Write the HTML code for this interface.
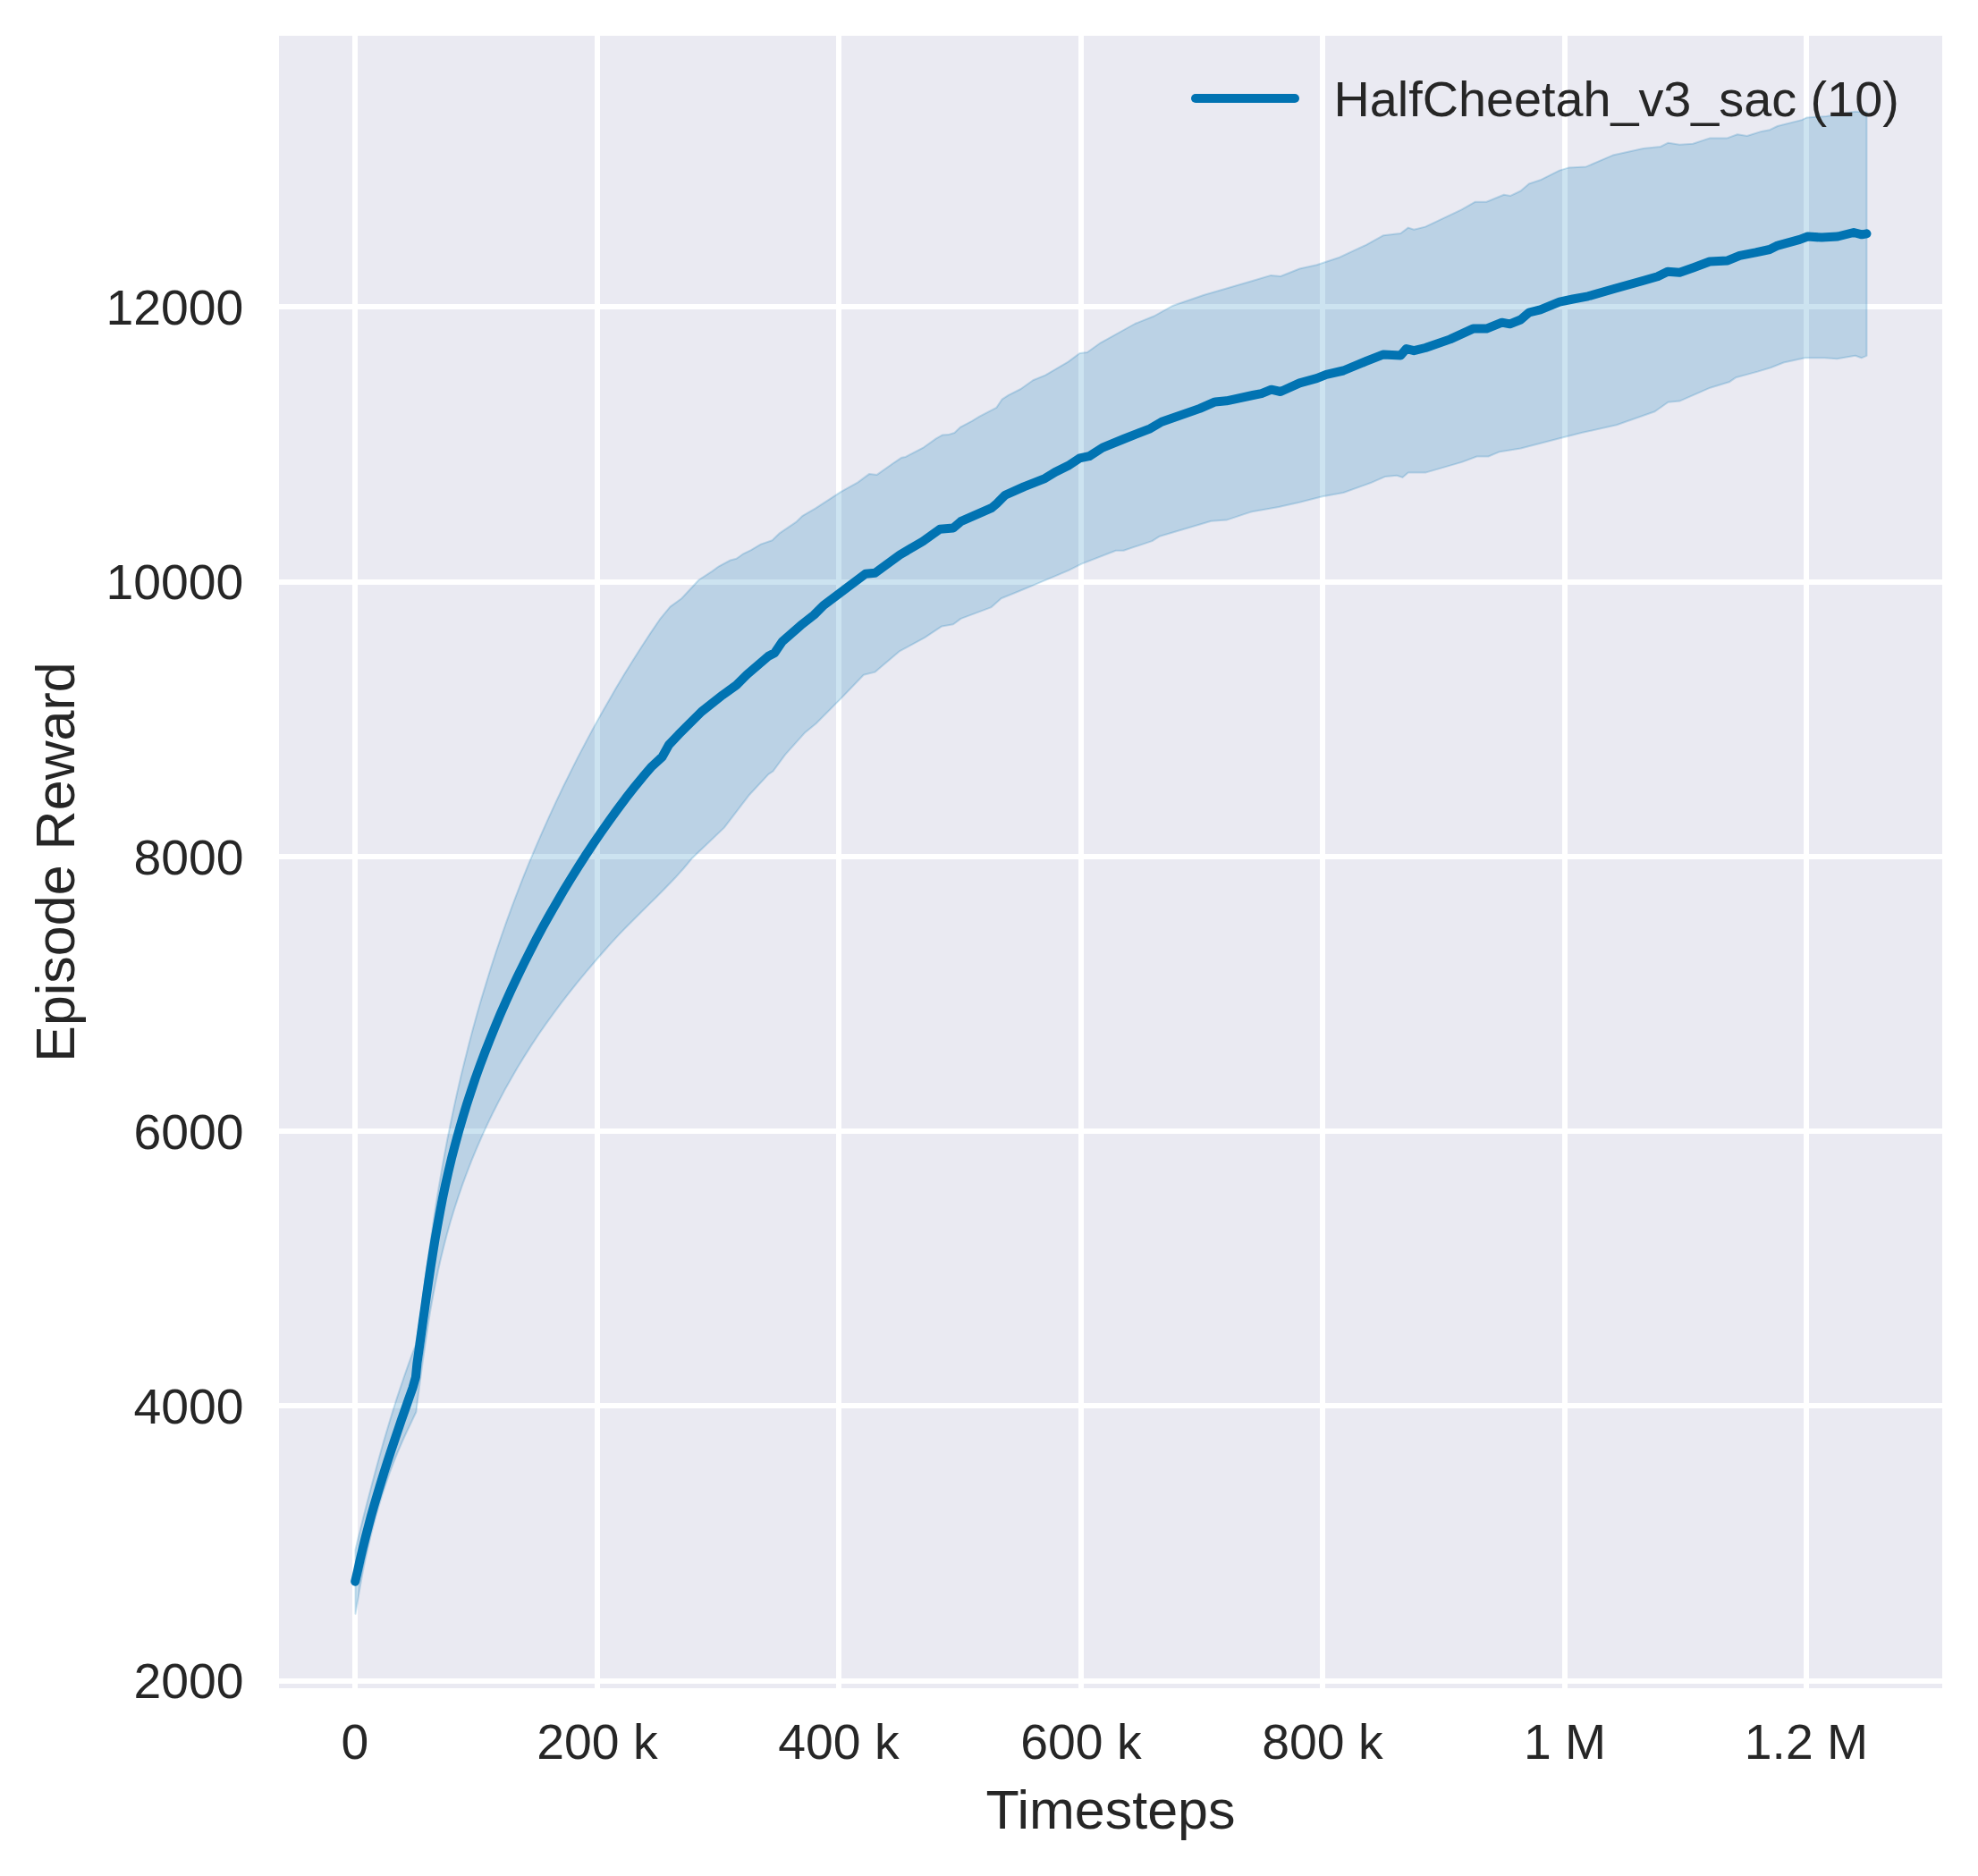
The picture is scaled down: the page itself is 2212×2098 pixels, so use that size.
<!DOCTYPE html>
<html><head><meta charset="utf-8"><style>
html,body{margin:0;padding:0;background:#fff;}
svg{display:block;}
.t{font-family:"Liberation Sans",sans-serif;font-size:55.3px;fill:#262626;}
.l{font-family:"Liberation Sans",sans-serif;font-size:61px;fill:#262626;}
</style></head><body>
<svg width="2212" height="2098" viewBox="0 0 2212 2098">
<rect width="2212" height="2098" fill="#fff"/>
<rect x="312" y="40" width="1860" height="1848" fill="#EAEAF2"/>
<rect x="394" y="40" width="6" height="1848" fill="#fff"/>
<rect x="665" y="40" width="6" height="1848" fill="#fff"/>
<rect x="935" y="40" width="6" height="1848" fill="#fff"/>
<rect x="1206" y="40" width="6" height="1848" fill="#fff"/>
<rect x="1476" y="40" width="6" height="1848" fill="#fff"/>
<rect x="1747" y="40" width="6" height="1848" fill="#fff"/>
<rect x="2017" y="40" width="6" height="1848" fill="#fff"/>
<rect x="312" y="1877" width="1860" height="6" fill="#fff"/>
<rect x="312" y="1569" width="1860" height="6" fill="#fff"/>
<rect x="312" y="1262" width="1860" height="6" fill="#fff"/>
<rect x="312" y="955" width="1860" height="6" fill="#fff"/>
<rect x="312" y="648" width="1860" height="6" fill="#fff"/>
<rect x="312" y="340" width="1860" height="6" fill="#fff"/>
<polygon points="397.5,1733.3 400.3,1721 403.4,1708.8 406.4,1696.6 409.5,1684.4 412.7,1672.2 415.9,1660 419.1,1647.9 422.4,1635.7 425.8,1623.6 429.2,1611.5 432.8,1599.4 436.4,1587.3 440.1,1575.3 443.9,1563.3 447.9,1551.4 451.9,1539.5 456.1,1527.6 460.4,1515.7 464.9,1504 468.1,1486.8 470.5,1469.4 472.8,1451.8 475.2,1434.2 477.5,1416.5 480,1398.8 482.5,1381.1 485.1,1363.3 487.8,1345.5 490.7,1327.7 493.7,1309.9 496.9,1292.2 500.2,1274.4 503.8,1256.7 507.5,1239 511.3,1221.4 515.4,1203.8 519.7,1186.2 524.1,1168.7 528.7,1151.2 533.5,1133.8 538.5,1116.4 543.8,1099.1 549.1,1081.8 554.7,1064.6 560.5,1047.5 566.5,1030.4 572.7,1013.4 579.1,996.5 585.7,979.6 592.5,962.9 599.6,946.2 606.8,929.6 614.2,913.1 621.8,896.7 629.6,880.3 637.6,864.1 645.7,847.9 654.1,831.9 662.6,815.9 671.4,800.1 680.3,784.4 689.3,768.8 698.6,753.3 708.1,737.9 717.8,722.7 727.7,707.6 737.8,692.7 749.4,678.6 762.2,669.2 781.5,648.5 796.3,638.9 804,633.3 816.8,626.5 823.6,624.8 831.3,619.3 840,615.1 850.9,608.6 863.6,604.2 871.3,596.7 890.1,583.9 897.6,576.8 912.5,568.2 940.2,550.1 959.4,539.4 972.2,529.9 980.7,530.9 1000,517.3 1008.4,511.7 1012.8,510.9 1033,500.3 1046.9,490.4 1053.7,486.6 1060.6,486.1 1067.4,484 1074.2,477.6 1087,470.8 1095.5,465.7 1114.3,455.9 1120.5,446.7 1127.9,441.8 1141.5,435 1155.2,425.2 1169,419.6 1194.6,404.6 1207.4,395 1215.9,394 1230.9,383.3 1269.3,362 1290.6,353.5 1311.9,341.7 1346,330 1400,314.3 1421.3,307.9 1432,309 1453.3,300.5 1472.5,296.2 1498.1,287.7 1527.9,273.8 1547.1,263.2 1566.3,261 1574.8,254.6 1581.2,256.8 1594,253.6 1634.5,234.4 1649.5,225.8 1662.3,225.8 1681.8,217.8 1689.2,218.9 1700.6,213.5 1709.9,205.5 1722.6,201.3 1744,190.6 1754.6,187.4 1773.8,186.4 1803.7,173.6 1837.8,166.1 1857,164 1865.5,159.7 1878.3,161.8 1893.2,160.8 1912.4,154.4 1931.6,154.4 1943,150.2 1953.7,152 1970,146.9 1979.2,145.2 1987.8,141 2015.1,134.1 2020.2,131.6 2042.4,129.9 2074.8,124.7 2087.5,125.6 2087.5,397.8 2081.6,400.3 2074.8,397.8 2054.3,401.2 2040.7,400.3 2018.5,400.3 1994.6,405.5 1980,411.3 1965.6,415.6 1941,422.3 1933.7,427.3 1912.4,433.7 1878.3,448.6 1865.5,449.7 1850.6,460.3 1807.9,475.3 1769.6,483.8 1744,490.2 1700.6,501.5 1677.2,505.2 1664.4,510.5 1651.6,510.5 1634.5,516.9 1594,528.6 1574.8,528.6 1568.4,533.9 1562,531.8 1549.3,532.9 1532.2,540.3 1502.3,551 1478.9,555.3 1453.3,561.7 1429.9,567 1420,568.8 1400,572.3 1397.2,573.1 1371.6,581.6 1354.5,582.7 1297,599.7 1288.4,605.1 1256.5,615.7 1247.9,615.7 1209.6,630.6 1194.6,638.1 1154.1,655.2 1140,661 1119.6,669.2 1108.7,679.1 1074.5,691.9 1066,698.3 1053.2,700.4 1034,713.2 1006.3,728.1 978.6,751.6 965.8,754.8 940.2,781.4 912.5,809.2 899.7,819.8 878.2,843.8 864.5,862.5 859.4,865.9 837.2,889.8 809.9,925.6 778.5,955.5 774.1,959.7 764.7,971 755,981.8 744.9,992.3 734.6,1002.7 724.3,1012.9 713.9,1023.2 703.6,1033.5 693.4,1043.9 683.5,1054.6 673.8,1065.5 664.3,1076.5 654.9,1087.6 645.6,1098.8 636.6,1110.2 627.7,1121.6 619,1133.3 610.5,1145.1 602.2,1157 594.2,1169.1 586.4,1181.4 578.8,1193.8 571.5,1206.4 564.4,1219.1 557.6,1232 551,1245 544.7,1258.1 538.7,1271.3 532.9,1284.6 527.3,1298.1 522.1,1311.6 517.1,1325.2 512.4,1338.9 507.9,1352.7 503.7,1366.5 499.8,1380.4 496.2,1394.3 492.8,1408.2 489.7,1422.1 486.8,1436.1 484.1,1450 481.6,1463.9 479.3,1477.8 477.2,1491.9 475.1,1506 473.1,1520.3 471.1,1534.7 469.2,1549.3 467.2,1564.1 465.4,1579 460.1,1590.3 454.7,1601.6 449.5,1613 444.6,1624.4 440,1636 435.6,1647.6 431.5,1659.4 427.6,1671.2 424,1683.1 420.5,1695 417.3,1707 414.3,1719.1 411.4,1731.2 408.7,1743.4 406.2,1755.6 403.9,1767.9 401.7,1780.2 399.6,1792.5 397.5,1804.8" fill="#0173B2" fill-opacity="0.2" stroke="#0173B2" stroke-opacity="0.2" stroke-width="2" stroke-linejoin="round"/>
<polyline points="397.2,1768.7 400,1756.5 402.7,1744.2 405.6,1731.9 408.6,1719.7 411.8,1707.5 415,1695.4 418.4,1683.3 422,1671.3 425.6,1659.2 429.3,1647.2 433.1,1635.3 437,1623.3 441,1611.4 445,1599.5 449,1587.6 453.2,1575.8 457.3,1563.9 461.5,1552.1 464.9,1540 466.4,1524.6 468.6,1509.3 470.7,1494 472.8,1478.6 475,1463.3 477.1,1447.9 479.3,1432.5 481.6,1417.1 484,1401.7 486.5,1386.3 489.2,1370.9 492,1355.6 494.9,1340.3 498.1,1325.1 501.5,1310 505.1,1294.9 509,1279.9 513.1,1265 517.4,1250.1 521.9,1235.3 526.7,1220.6 531.6,1205.9 536.8,1191.4 542.2,1176.9 547.9,1162.5 553.7,1148.1 559.7,1133.8 565.9,1119.7 572.3,1105.6 579,1091.5 585.8,1077.6 592.8,1063.7 599.9,1049.9 607.3,1036.2 614.8,1022.7 622.6,1009.2 630.4,995.8 638.5,982.5 646.7,969.3 655.1,956.2 663.7,943.3 672.4,930.5 681.3,917.8 690.4,905.2 699.6,892.9 709.2,880.7 718.9,868.8 729,857.1 740.5,846.5 748,833 758.8,821.6 774.1,806.2 784.4,796 808.2,777.2 823.6,766.1 835.5,754.2 859.4,733.7 866.2,730.3 874.8,717.5 895.4,699.4 910.4,687.6 921,677 950.9,654.6 967.9,641.8 978.6,640.7 1006.3,620.5 1031.9,605.5 1051.1,591.7 1066,590.6 1074.5,583.2 1108.7,568.2 1114.6,563.2 1124,553.8 1145,544.4 1168.5,535.1 1180,528 1194.6,520.8 1207.4,512.3 1218.1,510.2 1233,500.6 1256.5,491 1286.3,479.3 1299.1,471.8 1341.7,456.9 1358.8,449.4 1371.6,448.3 1401,442 1410.7,440.1 1421.7,435.7 1432,438 1453.3,428.4 1472.5,423.1 1483.2,418.8 1502.3,414.5 1527.9,403.9 1547.1,396.4 1566.3,397.5 1572.7,390 1581.2,392.2 1594,389 1621.7,379.4 1647.3,367.6 1662.3,367.6 1679.6,360.7 1688.5,362.3 1700.6,357.5 1709.9,349.5 1722.6,346.3 1744,337.7 1758.9,334.5 1775.9,331.3 1805.8,322.8 1838,313.7 1853.7,309.3 1864.9,303.7 1878.3,304.8 1894,299.2 1911.9,292.5 1932,291.4 1945.5,285.8 1963.4,282.4 1979,279 1988,274.6 2012.6,267.9 2021.6,264.5 2037.2,265.6 2055.1,264.5 2073,260 2082,262.3 2087.5,261.3" fill="none" stroke="#0173B2" stroke-width="10" stroke-linecap="round" stroke-linejoin="round"/>
<text x="272.4" y="1899" text-anchor="end" class="t">2000</text>
<text x="272.4" y="1592" text-anchor="end" class="t">4000</text>
<text x="272.4" y="1285" text-anchor="end" class="t">6000</text>
<text x="272.4" y="978" text-anchor="end" class="t">8000</text>
<text x="272.4" y="670" text-anchor="end" class="t">10000</text>
<text x="272.4" y="363" text-anchor="end" class="t">12000</text>
<text x="397" y="1967" text-anchor="middle" class="t">0</text>
<text x="668" y="1967" text-anchor="middle" class="t">200 k</text>
<text x="938" y="1967" text-anchor="middle" class="t">400 k</text>
<text x="1209" y="1967" text-anchor="middle" class="t">600 k</text>
<text x="1479" y="1967" text-anchor="middle" class="t">800 k</text>
<text x="1750" y="1967" text-anchor="middle" class="t">1 M</text>
<text x="2020" y="1967" text-anchor="middle" class="t">1.2 M</text>
<text x="1242" y="2045" text-anchor="middle" class="l">Timesteps</text>
<text transform="translate(82.8,964) rotate(-90)" x="0" y="0" text-anchor="middle" class="l">Episode Reward</text>
<line x1="1337" y1="110" x2="1448" y2="110" stroke="#0173B2" stroke-width="10" stroke-linecap="round"/>
<text x="1491.5" y="130.3" class="t" style="font-size:55.75px">HalfCheetah_v3_sac (10)</text>
</svg>
</body></html>
